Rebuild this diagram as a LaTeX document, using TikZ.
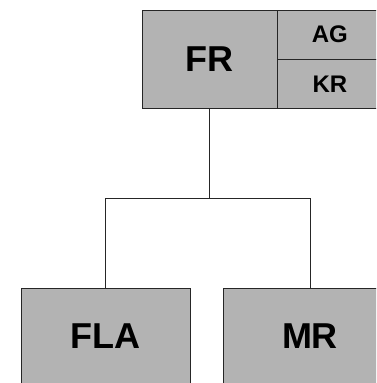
\documentclass[tikz,border=0pt]{standalone}
\usepackage{fontspec}
\setmainfont{Liberation Sans}
\usetikzlibrary{positioning, calc}
\definecolor{boxgray}{HTML}{B3B3B3}
\definecolor{linegray}{HTML}{262626}

\begin{document}
\begin{tikzpicture}[
  x=1pt, y=-1pt,
  cell/.style={draw=linegray, fill=boxgray, line width=0.9pt, inner sep=0pt,
               text=black, font=\bfseries\fontsize{36}{36}\selectfont},
  small/.style={cell, font=\bfseries\fontsize{24}{24}\selectfont,
                minimum width=104pt, minimum height=49pt},
  link/.style={draw=linegray, line width=0.9pt}
]
\useasboundingbox[fill=white] (0,0) rectangle (376,383);
\clip (0,0) rectangle (376,383);

% Top unit
\node[cell, minimum width=135pt, minimum height=98pt] (fr) at (209.5,59) {FR};
\node[small, anchor=north west] (ag) at (fr.north east) {AG};
\node[small, anchor=north west] (kr) at (ag.south west) {KR};

% Sub units
\node[cell, minimum width=169pt, minimum height=96pt] (fla) at (105.5,336) {FLA};
\node[cell, minimum width=174pt, minimum height=96pt] (mr) at (310,336) {MR};

% Connectors
\draw[link] (fr.south) -- ++(0,90) coordinate (fork);
\draw[link] (fork) -| (fla.north);
\draw[link] (fork) -| (mr.north);

\end{tikzpicture}
\end{document}
